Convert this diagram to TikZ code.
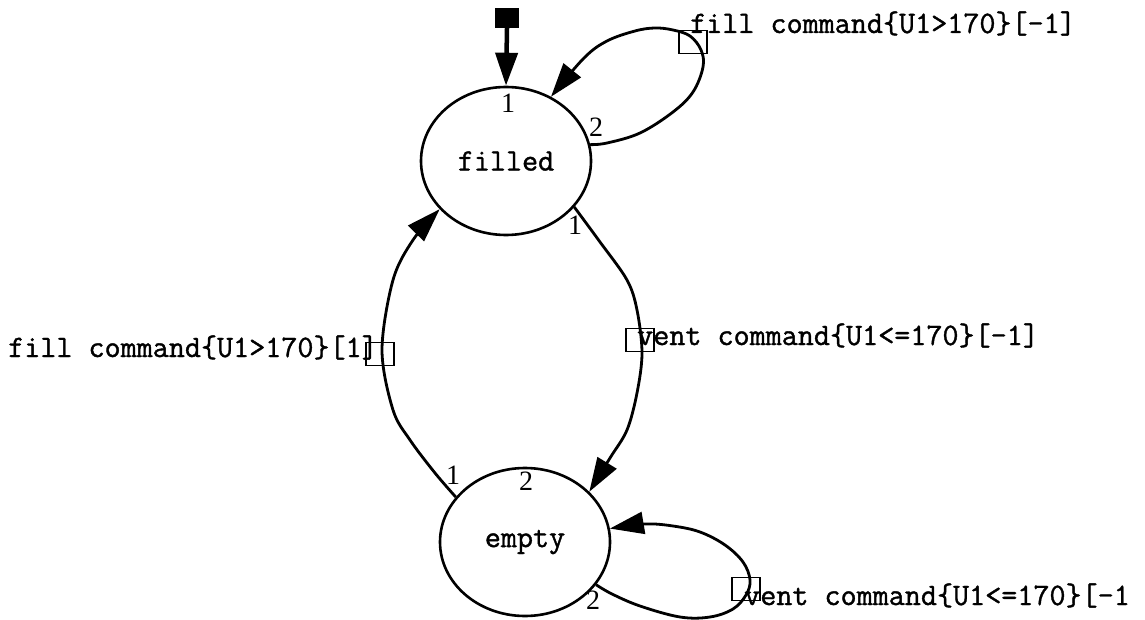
\documentclass[tikz,border=0pt]{standalone}
\usepackage{fontspec}
\usetikzlibrary{shapes.geometric,arrows.meta}
\newfontfamily\cour{Latin Modern Mono}[FakeBold=1.2]
\newfontfamily\numf{Liberation Serif}
\newcommand\typeface{\cour\fontsize{31.2}{34}\selectfont}
\newcommand\portface{\numf\fontsize{28}{30}\selectfont}

\begin{document}
\begin{tikzpicture}[x=1pt,y=-1pt,
  state/.style={ellipse,draw,line width=2.6pt,minimum width=170pt,minimum height=148pt,
    inner sep=0pt,font=\typeface},
  trans/.style={line width=2.8pt,-{Triangle[length=34pt,width=22pt]}},
  tagbox/.style={draw,line width=1.8pt,minimum width=28pt,minimum height=23pt,inner sep=0pt},
  lbl/.style={font=\typeface,inner sep=0pt,anchor=base west},
  portnum/.style={font=\portface,inner sep=0pt}
]
\path[use as bounding box] (0,0) rectangle (1145,620);

% states
\node[state] (filled) at (506,161) {filled};
\node[state] (empty)  at (525,542) {empty};

% initial marker
\node[fill=black,minimum width=24pt,minimum height=20pt,inner sep=0pt] (init) at (507,18) {};
\draw[line width=4.5pt,-{Triangle[length=33pt,width=22pt]}] (init.south) -- (filled.north);

% self loop on filled
\draw[trans] plot[smooth,tension=0.6] coordinates {(filled.11) (607,143) (640,133) (673,112)
  (693,92) (703,67) (701,50) (690,36) (673,30) (655,28) (635,31) (607,41) (584,58) (filled.55)};

% filled -> empty
\draw[trans] plot[smooth,tension=0.55] coordinates {(filled.-34) (600,242) (627,280) (637,310)
  (642,353) (637,393) (627,430) (610,458) (empty.38)};

% empty -> filled
\draw[trans] plot[smooth,tension=0.55] coordinates {(empty.147) (435,473) (410,440) (393,410)
  (382,350) (393,280) (413,240) (filled.216)};

% self loop on empty
\draw[trans] plot[smooth,tension=0.6] coordinates {(empty.-31.5) (612,594) (640,606)
  (680,617) (710,617) (733,609) (746,595) (750,580) (743,562) (725,545) (700,532)
  (673,526) (645,524) (empty.9.6)};

% label markers
\node[tagbox] (b1) at (693,42) {};
\node[tagbox] (b2) at (380,354) {};
\node[tagbox] (b3) at (640,340) {};
\node[tagbox] (b4) at (746,589) {};

% transition labels
\node[lbl] (t1) at (690,33) {fill command\{U1>170\}[-1]};
\node[lbl] (t2) at (8,357) {fill command\{U1>170\}[1]};
\node[lbl] (t3) at (637,345) {vent command\{U1<=170\}[-1]};
\node[lbl] (t4) at (744,605) {vent command\{U1<=170\}[-1};

% port numbers
\node[portnum] (p1) at (508,103) {1};
\node[portnum] (p2) at (596,127) {2};
\node[portnum] (p3) at (575,225) {1};
\node[portnum] (p4) at (453,475) {1};
\node[portnum] (p5) at (526,481) {2};
\node[portnum] (p6) at (593,600) {2};
\end{tikzpicture}
\end{document}
